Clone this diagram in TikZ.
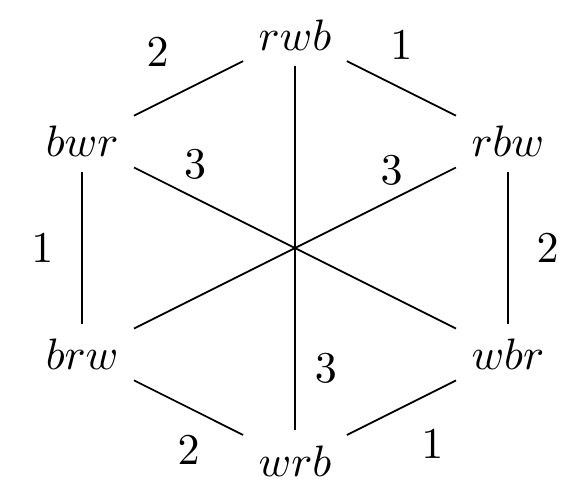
\documentclass[tikz,border=0pt]{standalone}
\usepackage{tikz}
\begin{document}
\begin{tikzpicture}[x=0.85cm,y=0.85cm,
 edge/.style={line width=0.4pt}]
 \useasboundingbox (-2.356cm,-1.941cm) rectangle (2.324cm,1.981cm);
 \node (rwb) at (0,2) {$rwb$};
 \node (rbw) at (2,1) {$rbw$};
 \node (wbr) at (2,-1) {$wbr$};
 \node (wrb) at (0,-2) {$wrb$};
 \node (brw) at (-2,-1) {$brw$};
 \node (bwr) at (-2,1) {$bwr$};
 % outer ring
 \draw[edge] (bwr) -- node[above left,xshift=-1pt,yshift=1.5pt] {$2$} (rwb);
 \draw[edge] (rwb) -- node[above=3pt] {$1$} (rbw);
 \draw[edge] (rbw) -- node[right=3pt] {$2$} (wbr);
 \draw[edge] (wbr) -- node[below right,xshift=1pt,yshift=-1.5pt] {$1$} (wrb);
 \draw[edge] (wrb) -- node[below=3pt] {$2$} (brw);
 \draw[edge] (brw) -- node[left=3pt] {$1$} (bwr);
 % diagonals
 \draw[edge] (bwr) -- node[above=1pt,pos=0.19] {$3$} (wbr);
 \draw[edge] (brw) -- node[above,pos=0.8] {$3$} (rbw);
 \draw[edge] (rwb) -- node[right=1pt,pos=0.83] {$3$} (wrb);
\end{tikzpicture}
\end{document}
